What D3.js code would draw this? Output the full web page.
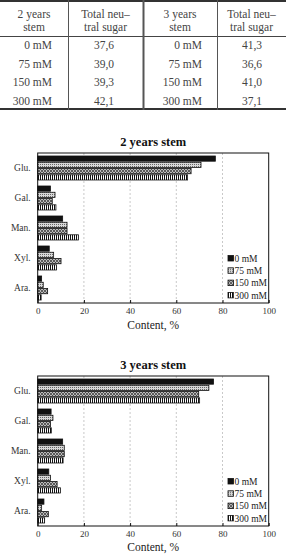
<!DOCTYPE html>
<html>
<head>
<meta charset="utf-8">
<script src="https://cdn.jsdelivr.net/npm/d3@7"></script>
<style>
  body { margin: 0; background: #fff; }
  svg { display: block; font-family: "Liberation Serif", "DejaVu Serif", serif; }
</style>
</head>
<body>
<svg id="chart" width="286" height="555"></svg>
<script>
// table values
const concentrations = ['0 mM', '75 mM', '150 mM', '300 mM'];
const total2 = ['37,6', '39,0', '39,3', '42,1'];
const total3 = ['41,3', '36,6', '41,0', '37,1'];

// chart values, content %, in order Glu, Gal, Man, Xyl, Ara
const sugars = ['Glu.', 'Gal.', 'Man.', 'Xyl.', 'Ara.'];
const stem2_0 = [76.9, 5.5, 10.8, 5.0, 1.7];
const stem2_75 = [70.7, 7.5, 12.7, 6.9, 2.4];
const stem2_150 = [66.4, 6.3, 12.7, 10.1, 4.3];
const stem2_300 = [64.9, 7.9, 17.6, 8.1, 1.5];
const stem3_0 = [76.1, 5.8, 10.8, 4.8, 2.7];
const stem3_75 = [74.1, 6.6, 11.5, 5.5, 1.7];
const stem3_150 = [69.7, 5.5, 11.5, 8.4, 4.6];
const stem3_300 = [70.1, 5.9, 11.0, 9.8, 3.0];
const xTicks = [0, 20, 40, 60, 80, 100];

const svg = d3.select('#chart');
const defs = svg.append('defs');

// bar fills
const p75 = defs.append('pattern').attr('id', 'p75')
  .attr('width', 2).attr('height', 2).attr('patternUnits', 'userSpaceOnUse');
p75.append('rect').attr('width', 2).attr('height', 2).attr('fill', '#d8d8d8');
p75.append('rect').attr('width', 1).attr('height', 1).attr('fill', '#666');

const p150 = defs.append('pattern').attr('id', 'p150')
  .attr('width', 3).attr('height', 3).attr('patternUnits', 'userSpaceOnUse');
p150.append('rect').attr('width', 3).attr('height', 3).attr('fill', '#bbb');
p150.append('path').attr('d', 'M0,0L3,3M3,0L0,3').attr('stroke', '#444').attr('stroke-width', 0.8);

const p300 = defs.append('pattern').attr('id', 'p300')
  .attr('width', 2).attr('height', 2).attr('patternUnits', 'userSpaceOnUse');
p300.append('rect').attr('width', 2).attr('height', 2).attr('fill', '#fff');
p300.append('rect').attr('width', 1).attr('height', 2).attr('fill', '#111');

const fills = ['#111', 'url(#p75)', 'url(#p150)', 'url(#p300)'];

// ---- table ----
const table = svg.append('g').attr('class', 'table');
const colX = [0, 68, 143, 217, 286];
const rowY = d3.scaleBand().domain(concentrations).range([36, 110]);
const tColor = '#444';

table.append('line').attr('x1', 0).attr('x2', 286).attr('y1', 1).attr('y2', 1)
  .attr('stroke', '#333').attr('stroke-width', 2);
table.append('line').attr('x1', 0).attr('x2', 286).attr('y1', 36.5).attr('y2', 36.5)
  .attr('stroke', '#444').attr('stroke-width', 1);
table.append('line').attr('x1', 0).attr('x2', 286).attr('y1', 109).attr('y2', 109)
  .attr('stroke', '#333').attr('stroke-width', 2);
[68, 143, 217].forEach((x, i) => {
  table.append('line').attr('x1', x + 0.5).attr('x2', x + 0.5).attr('y1', 0).attr('y2', 110)
    .attr('stroke', '#555').attr('stroke-width', i === 1 ? 2 : 1);
});

const headers = [['2 years', 'stem'], ['Total neu\u2013', 'tral sugar'], ['3 years', 'stem'], ['Total neu\u2013', 'tral sugar']];
headers.forEach((h, i) => {
  const cx = (colX[i] + colX[i + 1]) / 2;
  h.forEach((line, j) => {
    table.append('text').attr('x', cx).attr('y', 18 + j * 13)
      .attr('text-anchor', 'middle').attr('font-size', 11.5).attr('fill', tColor)
      .text(line);
  });
});

concentrations.forEach((c, i) => {
  const y = rowY(c) + rowY.bandwidth() / 2 + 4;
  table.append('text').attr('x', 52).attr('y', y).attr('text-anchor', 'end')
    .attr('font-size', 11.5).attr('fill', tColor).text(c);
  table.append('text').attr('x', 104).attr('y', y).attr('text-anchor', 'middle')
    .attr('font-size', 11.5).attr('fill', tColor).text(total2[i]);
  table.append('text').attr('x', 202).attr('y', y).attr('text-anchor', 'end')
    .attr('font-size', 11.5).attr('fill', tColor).text(c);
  table.append('text').attr('x', 252).attr('y', y).attr('text-anchor', 'middle')
    .attr('font-size', 11.5).attr('fill', tColor).text(total3[i]);
});

// ---- bar charts ----
function drawChart(top, bottom, title, series, labelGap) {
  const left = 37.7, right = 268.7;
  const g = svg.append('g');

  const x = d3.scaleLinear().domain([0, 100]).range([left, right]);
  const y0 = d3.scaleBand().domain(sugars).range([top, bottom])
    .paddingInner(0.2).paddingOuter(0.1);
  const y1 = d3.scaleBand().domain(concentrations).range([0, y0.bandwidth()])
    .paddingInner(0.17);

  g.append('text').attr('x', (left + right) / 2).attr('y', top - 7.5)
    .attr('text-anchor', 'middle').attr('font-size', 12.5).attr('font-weight', 'bold')
    .attr('fill', '#111').text(title);

  // dashed grid
  g.selectAll('.grid').data(xTicks.slice(1, -1)).enter().append('line')
    .attr('x1', d => x(d)).attr('x2', d => x(d))
    .attr('y1', top).attr('y2', bottom)
    .attr('stroke', '#bbb').attr('stroke-width', 0.8).attr('stroke-dasharray', '2,2');

  // bars
  const groups = g.selectAll('.grp').data(sugars).enter().append('g')
    .attr('transform', s => 'translate(0,' + y0(s) + ')');
  groups.selectAll('rect')
    .data((s, i) => series.map((vals, k) => ({ c: concentrations[k], v: vals[i], k })))
    .enter().append('rect')
    .attr('x', x(0))
    .attr('y', d => y1(d.c))
    .attr('width', d => x(d.v) - x(0))
    .attr('height', y1.bandwidth())
    .attr('fill', d => fills[d.k])
    .attr('stroke', '#111').attr('stroke-width', 0.8);

  // frame
  g.append('rect').attr('x', left).attr('y', top)
    .attr('width', right - left).attr('height', bottom - top)
    .attr('fill', 'none').attr('stroke', '#111').attr('stroke-width', 1);

  // x axis
  const xAxis = g.append('g').attr('transform', 'translate(0,' + bottom + ')')
    .call(d3.axisBottom(x).tickValues(xTicks).tickSizeInner(-3).tickSizeOuter(0).tickPadding(5));
  xAxis.select('.domain').remove();
  xAxis.selectAll('line').attr('stroke', '#111');
  xAxis.selectAll('text').attr('font-family', '"Liberation Serif", serif')
    .attr('font-size', 9).attr('fill', '#333');

  // y axis
  const yAxis = g.append('g').attr('transform', 'translate(' + left + ',0)')
    .call(d3.axisLeft(y0).tickSize(0).tickPadding(7));
  yAxis.select('.domain').remove();
  yAxis.selectAll('text').attr('font-family', '"Liberation Serif", serif')
    .attr('font-size', 9.5).attr('fill', '#333');

  g.append('text').attr('x', (left + right) / 2).attr('y', bottom + labelGap)
    .attr('text-anchor', 'middle').attr('font-size', 11.5).attr('fill', '#222')
    .text('Content, %');

  // legend
  const leg = g.selectAll('.leg').data(concentrations).enter().append('g')
    .attr('transform', (d, i) => 'translate(228,' + (top + 105.5 + i * 12.3) + ')');
  leg.append('rect').attr('x', 0).attr('y', -3).attr('width', 5.5).attr('height', 5.5)
    .attr('fill', (d, i) => fills[i]).attr('stroke', '#111').attr('stroke-width', 0.8);
  leg.append('text').attr('x', 6.5).attr('y', 3.2).attr('font-size', 9.5).attr('fill', '#222')
    .text(d => d);
}

drawChart(153, 303, '2 years stem', [stem2_0, stem2_75, stem2_150, stem2_300], 26);
drawChart(376, 526, '3 years stem', [stem3_0, stem3_75, stem3_150, stem3_300], 24.5);
</script>
</body>
</html>
